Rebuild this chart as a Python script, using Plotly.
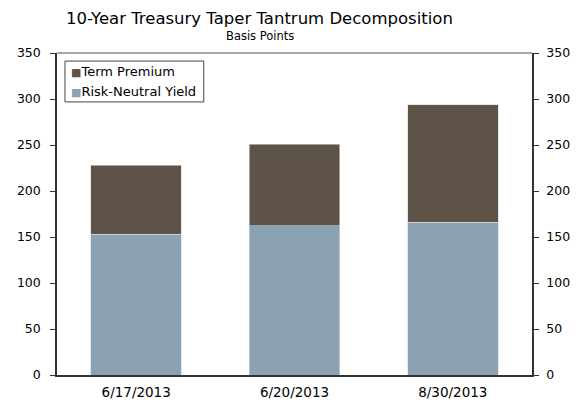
import plotly.graph_objects as go

dates = ["6/17/2013", "6/20/2013", "8/30/2013"]
risk_neutral = [153, 162, 166]
term_premium = [75, 89, 128]
y_ticks = [0, 50, 100, 150, 200, 250, 300, 350]
series_names = ["Term Premium", "Risk-Neutral Yield"]

FONT = "DejaVu Sans"
C_TP = "#5E5347"
C_RN = "#8AA2B1"
AX = "#333333"

fig = go.Figure()
fig.add_trace(go.Bar(x=dates, y=risk_neutral, name=series_names[1],
                     marker=dict(color=C_RN, line=dict(color="#D8D8D8", width=0.6))))
fig.add_trace(go.Bar(x=dates, y=term_premium, name=series_names[0],
                     marker=dict(color=C_TP, line=dict(color="#D8D8D8", width=0.6))))
# invisible trace to activate the right axis
fig.add_trace(go.Scatter(x=dates, y=risk_neutral, yaxis="y2", mode="markers",
                         marker=dict(opacity=0), showlegend=False, hoverinfo="skip"))

legend_ann = []
for name, col, yy in [(series_names[0], C_TP, 0.941), (series_names[1], C_RN, 0.879)]:
    legend_ann.append(dict(
        text=f"<span style='color:{col};font-size:11px'>■</span>{name}",
        xref="paper", yref="paper", x=0.0245, y=yy, xanchor="left", yanchor="middle",
        showarrow=False, font=dict(size=13, family=FONT, color="black")))

fig.update_layout(
    width=586, height=403,
    margin=dict(l=57, r=54, t=53, b=28),
    paper_bgcolor="white", plot_bgcolor="white",
    barmode="stack", bargap=0.428,
    font=dict(family=FONT, size=12, color="black"),
    showlegend=False,
    xaxis=dict(showline=True, linecolor=AX, linewidth=1.5, ticks="",
               showgrid=False, tickfont=dict(size=13.5), zeroline=False,
               automargin=False, ticklabelstandoff=4),
    yaxis=dict(range=[0, 350], tickvals=y_ticks, ticks="outside", ticklen=5,
               tickcolor=AX, showline=True, linecolor=AX, linewidth=1.5,
               showgrid=False, zeroline=False, ticklabelstandoff=7,
               tickfont=dict(size=12.5), automargin=False),
    yaxis2=dict(range=[0, 350], tickvals=y_ticks, ticks="outside", ticklen=5,
                tickcolor=AX, showline=True, linecolor=AX, linewidth=1.5,
                showgrid=False, zeroline=False, overlaying="y", side="right",
                ticklabelstandoff=5, tickfont=dict(size=12.5), automargin=False),
    shapes=[
        dict(type="line", xref="paper", yref="paper", x0=0, x1=1, y0=1, y1=1,
             line=dict(color="#888888", width=1.5)),
        dict(type="rect", xref="paper", yref="paper", x0=0.0168, x1=0.309,
             y0=0.848, y1=0.975, line=dict(color="#444444", width=1),
             fillcolor="white", layer="above"),
    ],
    annotations=[
        dict(text="10-Year Treasury Taper Tantrum Decomposition", xref="paper", yref="paper",
             x=0.427, y=1, xanchor="center", yanchor="bottom", yshift=23, showarrow=False,
             font=dict(size=16.5, family=FONT, color="black")),
        dict(text="Basis Points", xref="paper", yref="paper",
             x=0.427, y=1, xanchor="center", yanchor="bottom", yshift=8, showarrow=False,
             font=dict(size=11.5, family=FONT, color="black")),
    ] + legend_ann,
)

fig.write_html("out.html")
